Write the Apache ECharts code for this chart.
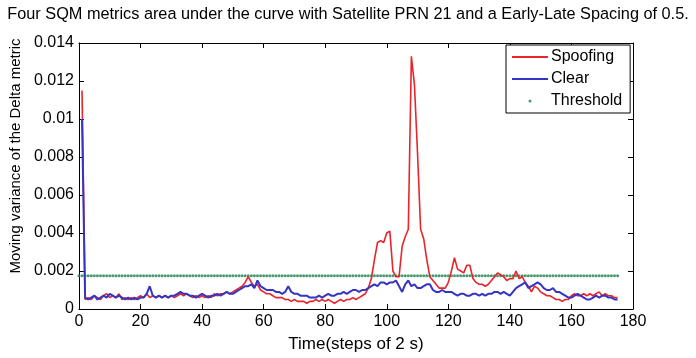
<!DOCTYPE html>
<html>
<head>
<meta charset="utf-8">
<script src="https://cdn.jsdelivr.net/npm/echarts@6/dist/echarts.min.js"></script>
<style>
html,body{margin:0;padding:0;background:#fff;}
#chart{width:696px;height:358px;}
</style>
</head>
<body>
<div id="chart"></div>
<script>
// Moving variance values, one per time step (steps 1..175)
const spoofing = [
0.0115,0.0005,0.0006,0.0005,0.0007,0.0006,0.0005,0.0007,0.0008,0.0006,
0.0007,0.0006,0.0008,0.0005,0.0006,0.0005,0.0006,0.0005,0.0006,0.0007,
0.0006,0.0008,0.0006,0.0007,0.0006,0.0007,0.0006,0.0007,0.0006,0.0007,
0.0006,0.0007,0.0008,0.0007,0.0008,0.0007,0.0006,0.0007,0.0006,0.0007,
0.0006,0.0007,0.0006,0.0008,0.0007,0.0008,0.0008,0.0009,0.0008,0.0009,
0.0010,0.0011,0.0012,0.0014,0.0017,0.0014,0.0012,0.0013,0.0010,0.0009,
0.0008,0.0008,0.0007,0.0006,0.0006,0.0006,0.0005,0.0005,0.0004,0.0005,
0.0004,0.0004,0.0004,0.0003,0.0004,0.0004,0.0005,0.0004,0.0005,0.0004,
0.0005,0.0004,0.0003,0.0004,0.0005,0.0004,0.0005,0.0005,0.0006,0.0005,
0.0006,0.0007,0.0008,0.0011,0.0016,0.0026,0.0035,0.0036,0.0035,0.0040,
0.0041,0.0020,0.0017,0.0017,0.0033,0.0038,0.0042,0.0133,0.0118,0.0082,
0.0042,0.0037,0.0026,0.0017,0.0015,0.0013,0.0011,0.0011,0.0011,0.0014,
0.0020,0.0027,0.0021,0.0020,0.0019,0.0023,0.0023,0.0016,0.0014,0.0013,
0.0013,0.0012,0.0013,0.0015,0.0017,0.0019,0.0018,0.0017,0.0015,0.0016,
0.0016,0.0020,0.0016,0.0017,0.0014,0.0012,0.0009,0.0012,0.0011,0.0009,
0.0008,0.0007,0.0007,0.0006,0.0005,0.0005,0.0004,0.0005,0.0005,0.0007,
0.0008,0.0007,0.0007,0.0008,0.0007,0.0008,0.0007,0.0008,0.0009,0.0007,
0.0008,0.0007,0.0007,0.0006,0.0006
];
const clear = [
0.0100,0.0006,0.0005,0.0006,0.0007,0.0005,0.0006,0.0007,0.0006,0.0008,
0.0007,0.0006,0.0007,0.0006,0.0005,0.0006,0.0005,0.0006,0.0005,0.0006,
0.0006,0.0008,0.0012,0.0007,0.0006,0.0007,0.0006,0.0007,0.0006,0.0007,
0.0007,0.0008,0.0009,0.0008,0.0008,0.0007,0.0007,0.0006,0.0007,0.0008,
0.0007,0.0006,0.0007,0.0007,0.0008,0.0007,0.0008,0.0009,0.0008,0.0008,
0.0009,0.0010,0.0011,0.0012,0.0012,0.0013,0.0011,0.0015,0.0012,0.0011,
0.0010,0.0010,0.0010,0.0009,0.0009,0.0008,0.0009,0.0012,0.0009,0.0008,
0.0008,0.0007,0.0007,0.0007,0.0006,0.0006,0.0006,0.0007,0.0006,0.0007,
0.0008,0.0007,0.0007,0.0008,0.0008,0.0009,0.0008,0.0009,0.0010,0.0010,
0.0009,0.0010,0.0010,0.0011,0.0012,0.0013,0.0012,0.0014,0.0014,0.0013,
0.0014,0.0014,0.0015,0.0012,0.0009,0.0013,0.0015,0.0012,0.0013,0.0011,
0.0011,0.0012,0.0013,0.0013,0.0010,0.0009,0.0009,0.0010,0.0009,0.0009,
0.0009,0.0008,0.0007,0.0008,0.0008,0.0007,0.0007,0.0008,0.0008,0.0007,
0.0008,0.0007,0.0008,0.0008,0.0009,0.0009,0.0008,0.0009,0.0008,0.0007,
0.0009,0.0011,0.0012,0.0013,0.0014,0.0011,0.0012,0.0013,0.0014,0.0013,
0.0011,0.0010,0.0010,0.0011,0.0009,0.0009,0.0008,0.0007,0.0006,0.0006,
0.0007,0.0008,0.0007,0.0006,0.0005,0.0005,0.0006,0.0007,0.0006,0.0007,
0.0007,0.0006,0.0006,0.0005,0.0005
];
const thresholdValue = 0.00175;
const thresholdStart = 0;
const thresholdEnd = 175;
const xTicks = [0, 20, 40, 60, 80, 100, 120, 140, 160, 180];
const yTicks = [0, 0.002, 0.004, 0.006, 0.008, 0.010, 0.012, 0.014];

const spoofData = spoofing.map((v, i) => [i + 1, v]);
const clearData = clear.map((v, i) => [i + 1, v]);
const thrData = [];
for (let t = thresholdStart; t <= thresholdEnd; t++) thrData.push([t, thresholdValue]);

const FONT = 'Liberation Sans';
const chart = echarts.init(document.getElementById('chart'), null, {renderer: 'canvas'});
const axisCommon = {
  axisLine: {show: true, onZero: false, lineStyle: {color: '#000', width: 1}},
  axisTick: {show: true, inside: true, length: 5, lineStyle: {color: '#000'}},
  splitLine: {show: false}
};
chart.setOption({
  animation: false,
  backgroundColor: '#fff',
  title: {
    text: 'Four SQM metrics area under the curve with Satellite PRN 21 and a Early-Late Spacing of 0.5.',
    left: 'center', top: 2,
    textStyle: {fontFamily: FONT, fontSize: 16.3, fontWeight: 'normal', color: '#000'}
  },
  legend: {
    orient: 'vertical',
    left: 506, top: 45,
    backgroundColor: '#fff',
    borderColor: '#000', borderWidth: 1,
    padding: [4, 8, 4, 6],
    itemGap: 6,
    itemWidth: 36, itemHeight: 14,
    itemStyle: {borderWidth: 0},
    textStyle: {fontFamily: FONT, fontSize: 16, color: '#000', padding: [0, 0, 0, -2]},
    data: [
      {name: 'Spoofing', icon: 'path://M0,0L36,0L36,2L0,2Z'},
      {name: 'Clear', icon: 'path://M0,0L36,0L36,2L0,2Z'},
      {name: 'Threshold', icon: 'path://M0,0L36,0L36,0Z M0,14L36,14L36,14Z M16.5,7a1.5,1.5 0 1,0 3,0a1.5,1.5 0 1,0 -3,0Z'}
    ]
  },
  grid: {left: 73, right: 63, top: 43, bottom: 43, containLabel: false},
  xAxis: [
    Object.assign({
      type: 'value', min: 0, max: 180, interval: 20, position: 'bottom',
      name: 'Time(steps of 2 s)', nameLocation: 'middle', nameGap: 27,
      nameTextStyle: {fontFamily: FONT, fontSize: 17, color: '#000'},
      axisLabel: {fontFamily: FONT, fontSize: 16, color: '#000', margin: 5}
    }, axisCommon),
    Object.assign({
      type: 'value', min: 0, max: 180, interval: 20, position: 'top',
      axisLabel: {show: false}
    }, axisCommon)
  ],
  yAxis: [
    Object.assign({
      type: 'value', min: 0, max: 0.014, interval: 0.002, position: 'left',
      name: 'Moving variance of the Delta metric', nameLocation: 'middle', nameGap: 51,
      nameTextStyle: {fontFamily: FONT, fontSize: 15, color: '#000', padding: [0, 0, 0, 40]},
      axisLabel: {
        fontFamily: FONT, fontSize: 16, color: '#000', margin: 5,
        formatter: v => (Math.abs(v) < 1e-12 ? '0' : String(+v.toFixed(3)))
      }
    }, axisCommon),
    Object.assign({
      type: 'value', min: 0, max: 0.014, interval: 0.002, position: 'right',
      axisLabel: {show: false}
    }, axisCommon)
  ],
  series: [
    {
      name: 'Spoofing', type: 'line', data: spoofData, symbol: 'none',
      lineStyle: {color: '#e8252a', width: 1.6}, itemStyle: {color: '#e8252a'}, z: 3
    },
    {
      name: 'Clear', type: 'line', data: clearData, symbol: 'none',
      lineStyle: {color: '#3535c2', width: 2}, itemStyle: {color: '#3535c2'}, z: 4
    },
    {
      name: 'Threshold', type: 'scatter', data: thrData, symbol: 'circle', symbolSize: 3,
      itemStyle: {color: '#1c7f4e'}, z: 2
    }
  ]
});
</script>
</body>
</html>
